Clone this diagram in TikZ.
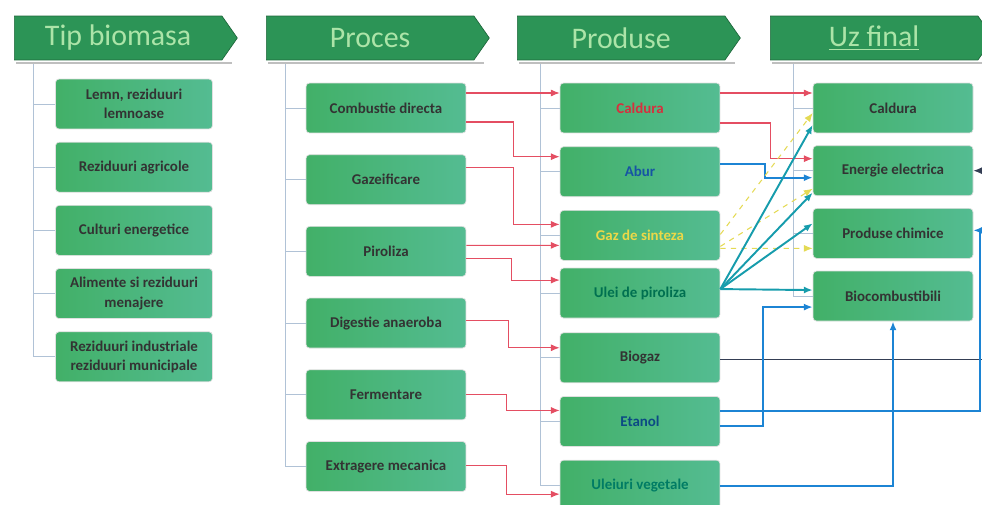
\documentclass[tikz,border=0pt]{standalone}
\usepackage{fontspec}
\setmainfont{Carlito}
\usetikzlibrary{shapes.symbols,positioning,arrows.meta,calc}

\definecolor{hdgreen}{RGB}{44,148,86}
\definecolor{hdtext}{RGB}{172,228,168}
\definecolor{boxA}{RGB}{66,176,104}
\definecolor{boxB}{RGB}{84,188,146}
\definecolor{redln}{RGB}{228,78,98}
\definecolor{blueln}{RGB}{28,132,212}
\definecolor{tealln}{RGB}{22,156,172}
\definecolor{yelln}{RGB}{228,218,84}
\definecolor{darkln}{RGB}{52,62,84}
\definecolor{spinecol}{RGB}{176,194,214}
\definecolor{txtred}{RGB}{214,48,62}
\definecolor{txtblue}{RGB}{22,84,164}
\definecolor{txtyel}{RGB}{236,216,72}
\definecolor{txtgreen}{RGB}{0,112,80}
\definecolor{txtteal}{RGB}{12,74,132}
\definecolor{txtoil}{RGB}{0,124,100}

\begin{document}
\begin{tikzpicture}[x=0.02cm, y=-0.02cm,
    header/.style={signal, signal to=east, signal pointer angle=110, fill=hdgreen, draw=hdgreen!70!black,
        minimum width=4.46cm, minimum height=0.88cm, inner sep=0pt, text=hdtext, font=\fontsize{17}{20}\selectfont},
    item/.style={rectangle, rounded corners=2pt, left color=boxA, right color=boxB, draw=black!12,
        minimum width=3.2cm, minimum height=1cm, align=center, inner sep=2pt,
        font=\fontsize{8.5}{11}\selectfont\bfseries, text=black!80},
    spine/.style={spinecol, thin},
    hdshade/.style={black!25, line width=1pt},
    feed/.style={-{Latex[length=5pt,width=4pt]}, redln, semithick},
    flowblue/.style={-{Latex[length=5pt,width=4pt]}, blueln, line width=1.1pt},
    flowteal/.style={-{Latex[length=5pt,width=4pt]}, tealln, line width=1.1pt},
    flowyel/.style={-{Latex[length=5pt,width=4pt]}, yelln, semithick, dashed},
    flowdark/.style={-{Latex[length=5pt,width=4pt]}, darkln, semithick},
]
\useasboundingbox (0,0) rectangle (982,504);

% Column headers
\node[header, anchor=west] (hbio) at (14,38) {Tip biomasa};
\node[header, anchor=west] (hproc) at (266,38) {Proces};
\node[header, anchor=west] (hprod) at (517,38) {Produse};
\node[header, anchor=west] (huz) at (770,38) {\underline{Uz final}};
\foreach \h in {hbio,hproc,hprod,huz}
    \draw[hdshade] ($(\h.west)+(2,25)$) -- ++(216,0);

% Biomass types
\node[item, minimum width=3.14cm] (bio1) at (134,104) {Lemn, reziduuri\\lemnoase};
\node[item, minimum width=3.14cm, below=0.25cm of bio1] (bio2) {Reziduuri agricole};
\node[item, minimum width=3.14cm, below=0.25cm of bio2] (bio3) {Culturi energetice};
\node[item, minimum width=3.14cm, below=0.25cm of bio3] (bio4) {Alimente si reziduuri\\menajere};
\node[item, minimum width=3.14cm, below=0.25cm of bio4] (bio5) {Reziduuri industriale\\reziduuri municipale};

% Processes
\node[item] (pc1) at (386,108) {Combustie directa};
\node[item, below=0.42cm of pc1] (pc2) {Gazeificare};
\node[item, below=0.42cm of pc2] (pc3) {Piroliza};
\node[item, below=0.42cm of pc3] (pc4) {Digestie anaeroba};
\node[item, below=0.42cm of pc4] (pc5) {Fermentare};
\node[item, below=0.42cm of pc5] (pc6) {Extragere mecanica};

% Products
\node[item] (pr1) at (640,108) {\textcolor{txtred}{Caldura}};
\node[item, below=0.26cm of pr1] (pr2) {\textcolor{txtblue}{Abur}};
\node[item, below=0.26cm of pr2] (pr3) {\textcolor{txtyel}{Gaz de sinteza}};
\node[item, below=0.14cm of pr3] (pr4) {\textcolor{txtgreen}{Ulei de piroliza}};
\node[item, below=0.28cm of pr4] (pr5) {Biogaz};
\node[item, below=0.26cm of pr5] (pr6) {\textcolor{txtteal}{Etanol}};
\node[item, below=0.26cm of pr6] (pr7) {\textcolor{txtoil}{Uleiuri vegetale}};

% Final uses
\node[item] (uz1) at (893,108) {Caldura};
\node[item, below=0.24cm of uz1] (uz2) {Energie electrica};
\node[item, below=0.24cm of uz2] (uz3) {Produse chimice};
\node[item, below=0.24cm of uz3] (uz4) {Biocombustibili};

% Spines under the headers
\coordinate (sbio) at ($(hbio.west)+(19,26)$);
\coordinate (sproc) at ($(hproc.west)+(19,26)$);
\coordinate (sprod) at ($(hprod.west)+(23,26)$);
\coordinate (suz) at ($(huz.west)+(23,26)$);
\draw[spine] (sbio) |- (bio5.west);
\draw[spine] (sproc) |- (pc6.west);
\draw[spine] (sprod) |- (pr7.west);
\draw[spine] (suz) |- (uz4.west);
\foreach \b in {bio1,bio2,bio3,bio4} \draw[spine] (sbio |- \b.west) -- (\b.west);
\foreach \b in {pc1,pc2,pc3,pc4,pc5} \draw[spine] (sproc |- \b.west) -- (\b.west);
\foreach \b in {pr1,pr2,pr3,pr4,pr5,pr6} \draw[spine] (sprod |- \b.west) -- (\b.west);
\foreach \b in {uz1,uz2,uz3} \draw[spine] (suz |- \b.west) -- (\b.west);

% Processes to products
\draw[feed] ($(pc1.east)+(0,-15)$) -- ($(pr1.west)+(0,-15)$);
\draw[feed] ($(pc1.east)+(0,14)$) -- ++(47,0) |- ($(pr2.west)+(0,-15)$);
\draw[feed] ($(pc2.east)+(0,-12)$) -- ++(47,0) |- ($(pr3.west)+(0,-11)$);
\draw[feed] ($(pc3.east)+(0,-6)$) -- ($(pr3.west)+(0,10)$);
\draw[feed] ($(pc3.east)+(0,7)$) -- ++(45,0) |- ($(pr4.west)+(0,-13)$);
\draw[feed] ($(pc4.east)+(0,-3)$) -- ++(42,0) |- ($(pr5.west)+(0,-10)$);
\draw[feed] (pc5.east) -- ++(40,0) |- ($(pr6.west)+(0,-11)$);
\draw[feed] ($(pc6.east)+(0,-1)$) -- ++(40,0) |- ($(pr7.west)+(0,9)$);

% Products to final uses
\draw[feed] ($(pr1.east)+(0,-15)$) -- ($(uz1.west)+(0,-15)$);
\draw[feed] ($(pr1.east)+(0,15)$) -- ++(50,0) |- ($(uz2.west)+(0,-12)$);
\draw[flowblue] ($(pr2.east)+(0,-8)$) -- ++(45,0) |- ($(uz2.west)+(0,7)$);
\draw[flowyel] ($(pr3.east)+(0,-1)$) -- ($(uz1.west)+(0,5)$);
\draw[flowyel] ($(pr3.east)+(0,11)$) -- ($(uz2.west)+(0,18)$);
\draw[flowyel] ($(pr3.east)+(0,13)$) -- ($(uz3.west)+(0,15)$);
\foreach \t/\d in {uz1/17, uz2/22, uz3/-10, uz4/-6}
    \draw[flowteal] ($(pr4.east)+(0,-4)$) -- ($(\t.west)+(0,\d)$);
\draw[flowdark] ($(pr5.east)+(0,2)$) -- ++(270,0) |- (uz2.east);
\draw[flowblue] ($(pr6.east)+(0,-10)$) -- ++(260,0) |- ($(uz3.east)+(0,-3)$);
\draw[flowblue] ($(pr6.east)+(0,5)$) -- ++(43,0) |- ($(uz4.west)+(0,11)$);
\draw[flowblue] ($(pr7.east)+(0,1)$) -| (uz4.south);

\end{tikzpicture}
\end{document}
